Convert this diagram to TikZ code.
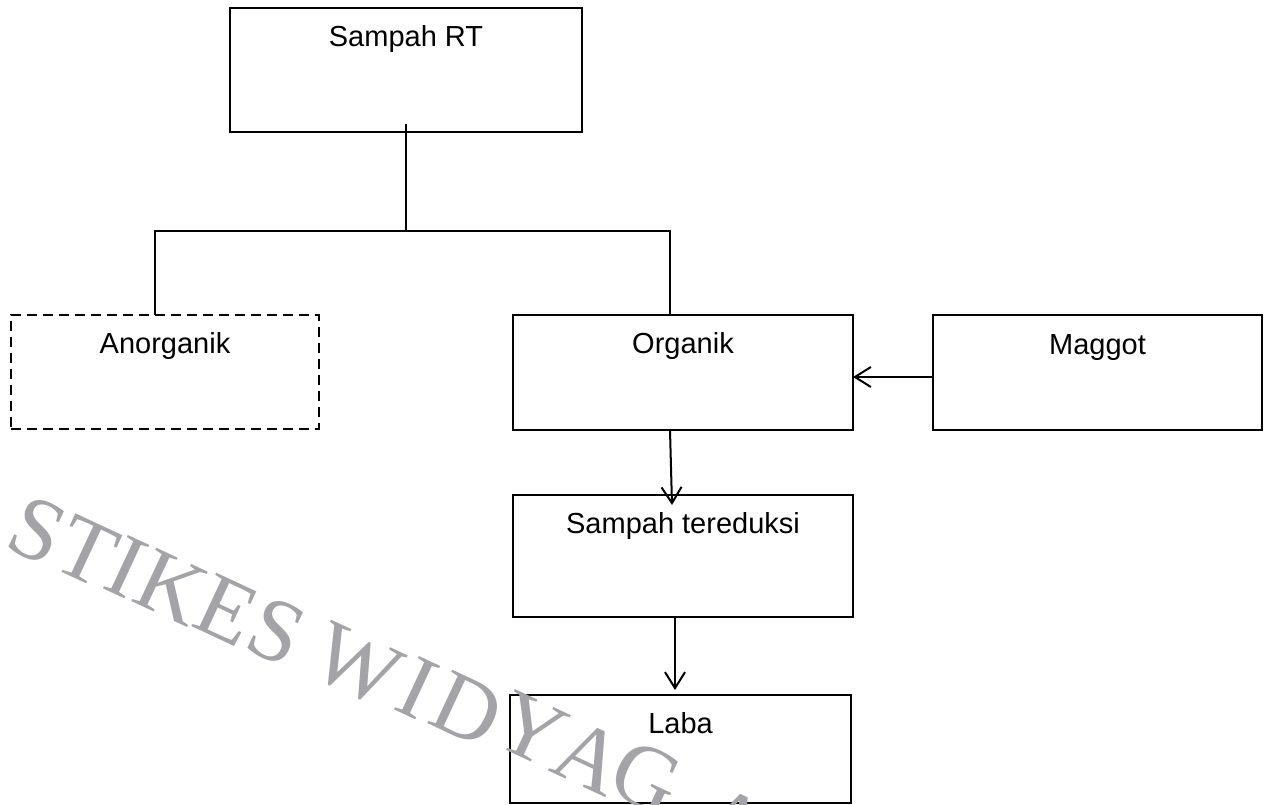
\documentclass[tikz,border=0pt]{standalone}
\usepackage{fontspec}
\setmainfont{Liberation Sans}
\newfontfamily\wmfont{Liberation Serif}
\usetikzlibrary{arrows.meta}
\definecolor{wmgray}{RGB}{163,163,168}
\tikzset{
  box/.style={draw=black, line width=1.8pt, inner sep=0pt, outer sep=0pt, fill=none},
  dbox/.style={box, dash pattern=on 10pt off 6pt},
  lbl/.style={anchor=base, inner sep=0pt, font=\fontsize{29}{34}\selectfont},
  conn/.style={draw=black, line width=2pt},
  arr/.style={conn, -{Straight Barb[length=16pt, width=20pt, line width=2pt]}},
  wm/.style={anchor=base west, inner sep=0pt, text=wmgray, rotate=-25,
             font=\wmfont\fontsize{90}{98}\selectfont}
}
\begin{document}
\begin{tikzpicture}[x=1pt, y=-1pt]
\useasboundingbox (0,0) rectangle (1268,805);
\clip (0,0) rectangle (1268,805);
\fill[white] (0,0) rectangle (1268,805);

% boxes
\node[box, minimum width=352pt, minimum height=124pt] (rt) at (406,70) {};
\node[lbl] (rtl) at ([yshift=-39pt]rt.north) {Sampah RT};

\node[dbox, minimum width=308pt, minimum height=114pt] (an) at (165,372) {};
\node[lbl] (anl) at ([yshift=-38pt]an.north) {Anorganik};

\node[box, minimum width=340pt, minimum height=115pt] (org) at (683,372.5) {};
\node[lbl] (orgl) at ([yshift=-38pt]org.north) {Organik};

\node[box, minimum width=329pt, minimum height=115pt] (mag) at (1097.5,372.5) {};
\node[lbl] (magl) at ([yshift=-39pt]mag.north) {Maggot};

\node[box, minimum width=340pt, minimum height=122pt] (red) at (683,556) {};
\node[lbl] (redl) at ([yshift=-38pt]red.north) {Sampah tereduksi};

\node[box, minimum width=341pt, minimum height=108pt] (laba) at (680.5,749) {};
\node[lbl] (labal) at ([yshift=-38pt]laba.north) {Laba};

% tree connectors
\coordinate (j) at (406,231);
\coordinate (jl) at (155,231);
\coordinate (jr) at (670,231);
\draw[conn] ([yshift=8pt]rt.south) -- (j);
\draw[conn] (an.north -| jl) -- (jl) -- (jr) -- (org.north -| jr);

% arrows
\draw[arr] ([xshift=-13pt]org.south) -- ([xshift=-11pt, yshift=-10pt]red.north);
\draw[arr] ([xshift=-8pt]red.south) -- ([xshift=-5.5pt, yshift=5pt]laba.north);
\draw[arr] ([yshift=-4.5pt]mag.west) -- ([yshift=-4.5pt]org.east);

% watermark
\foreach \ch/\s [count=\i] in {S/0, T/51, I/107, K/138, E/204, S/260}
  \node[wm] (wma\i) at ({2+\s*0.9205},{546+\s*0.3907}) {\ch};
\foreach \ch/\px/\py [count=\i] in {W/306/673, I/391/708, D/425/722, Y/489/742,
                                   A/547/770, G/604/790, A/690/836}
  \node[wm] (wmb\i) at (\px,\py) {\ch};
\end{tikzpicture}
\end{document}
